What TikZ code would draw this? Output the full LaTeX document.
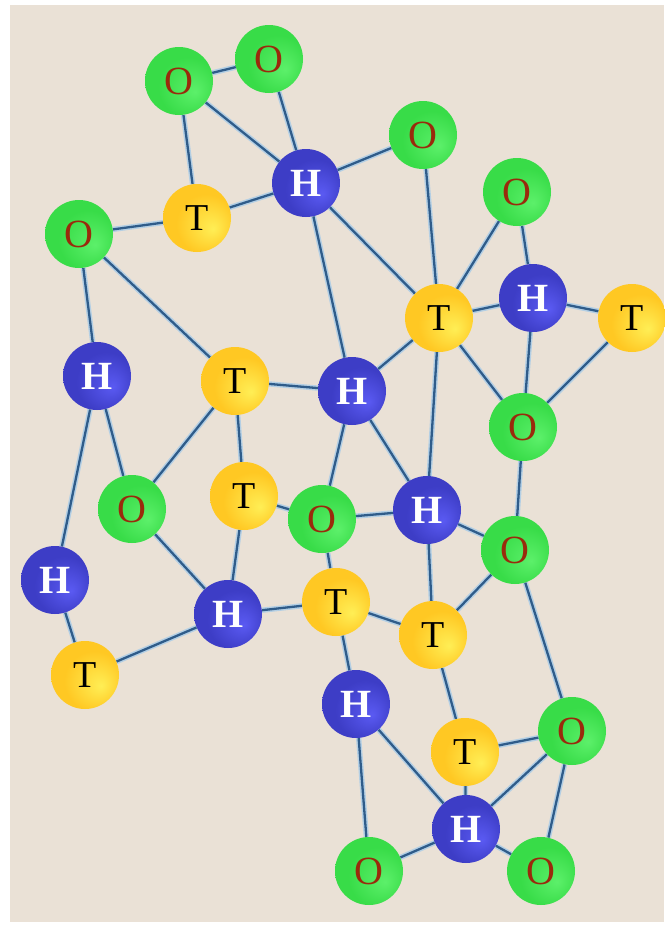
\documentclass[tikz,border=0pt]{standalone}
\usepackage{fontspec}
\setmainfont{Liberation Serif}
\usetikzlibrary{backgrounds}
\definecolor{bgbeige}{HTML}{EAE1D6}
\definecolor{edgecore}{HTML}{2F5C8A}
\definecolor{edgehalo}{HTML}{B4CFE4}
\definecolor{gHi}{HTML}{5CF06A}
\definecolor{gMid}{HTML}{38DC48}
\definecolor{gEdge}{HTML}{1E9E30}
\definecolor{bHi}{HTML}{5A5AF2}
\definecolor{bMid}{HTML}{3D3DC6}
\definecolor{bEdge}{HTML}{2B2B96}
\definecolor{yHi}{HTML}{FFEE55}
\definecolor{yMid}{HTML}{FFC823}
\definecolor{yEdge}{HTML}{DE9612}
\definecolor{oText}{HTML}{9A2A0C}
\pgfdeclareradialshading{greenball}{\pgfpoint{12bp}{-8bp}}{color(0bp)=(gHi); color(22bp)=(gMid); color(42bp)=(gMid); color(50bp)=(gEdge)}
\pgfdeclareradialshading{blueball}{\pgfpoint{12bp}{-8bp}}{color(0bp)=(bHi); color(22bp)=(bMid); color(42bp)=(bMid); color(50bp)=(bEdge)}
\pgfdeclareradialshading{yellowball}{\pgfpoint{12bp}{-8bp}}{color(0bp)=(yHi); color(22bp)=(yMid); color(42bp)=(yMid); color(50bp)=(yEdge)}
\tikzset{
  ball/.style={circle, minimum size=68pt, inner sep=0pt},
  obox/.style={ball, shading=greenball, text=oText, font=\fontsize{40}{40}\selectfont},
  hbox/.style={ball, shading=blueball, text=white, font=\fontsize{40}{40}\selectfont\bfseries},
  tbox/.style={ball, shading=yellowball, text=black, font=\fontsize{38}{38}\selectfont},
  bond/.style={draw=edgehalo, line width=1.5pt, double=edgecore, double distance=2.3pt}
}
\begin{document}
\begin{tikzpicture}[x=1pt,y=-1pt]
\useasboundingbox (0,0) rectangle (664,929);
% nodes
\node[obox] (O1) at (179,81) {O};
\node[obox] (O2) at (269,59) {O};
\node[obox] (O3) at (423,135) {O};
\node[obox] (O4) at (79,234) {O};
\node[obox] (O5) at (517,192) {O};
\node[obox] (O6) at (523,427) {O};
\node[obox] (O7) at (132,509) {O};
\node[obox] (O8) at (322,519) {O};
\node[obox] (O9) at (515,550) {O};
\node[obox] (O10) at (572,731) {O};
\node[obox] (O11) at (369,871) {O};
\node[obox] (O12) at (541,871) {O};
\node[hbox] (H1) at (306,183) {H};
\node[hbox] (H2) at (533,298) {H};
\node[hbox] (H3) at (97,376) {H};
\node[hbox] (H4) at (352,391) {H};
\node[hbox] (H5) at (427,510) {H};
\node[hbox] (H6) at (55,580) {H};
\node[hbox] (H7) at (228,614) {H};
\node[hbox] (H8) at (356,704) {H};
\node[hbox] (H9) at (466,829) {H};
\node[tbox] (T1) at (197,218) {T};
\node[tbox] (T2) at (439,318) {T};
\node[tbox] (T3) at (632,318) {T};
\node[tbox] (T4) at (235,381) {T};
\node[tbox] (T5) at (244,496) {T};
\node[tbox] (T6) at (336,602) {T};
\node[tbox] (T7) at (433,635) {T};
\node[tbox] (T8) at (85,675) {T};
\node[tbox] (T9) at (465,752) {T};
\begin{scope}[on background layer]
\fill[white] (0,0) rectangle (664,929);
\fill[bgbeige] (10,5) rectangle (664,922);
\foreach \a/\b in {O1/O2, O1/T1, O1/H1, O2/H1, T1/H1, T1/O4, H1/O3, H1/H4, H1/T2,
  O3/T2, O5/T2, O5/H2, T2/H2, H2/T3, H2/O6, T3/O6, T2/O6, T2/H4, T2/H5,
  O4/H3, O4/T4, T4/H4, T4/O7, T4/T5, H3/O7, H3/H6, O7/H7, T5/H7, T5/O8,
  H4/O8, H4/H5, O8/H5, O8/T6, H5/O9, H5/T7, O6/O9, O9/T7, O9/O10,
  H6/T8, T8/H7, H7/T6, T6/T7, T6/H8, T7/T9, H8/H9, H8/O11, T9/O10, T9/H9,
  O10/H9, O10/O12, H9/O11, H9/O12}
  \draw[bond] (\a) -- (\b);
\end{scope}
\end{tikzpicture}
\end{document}
